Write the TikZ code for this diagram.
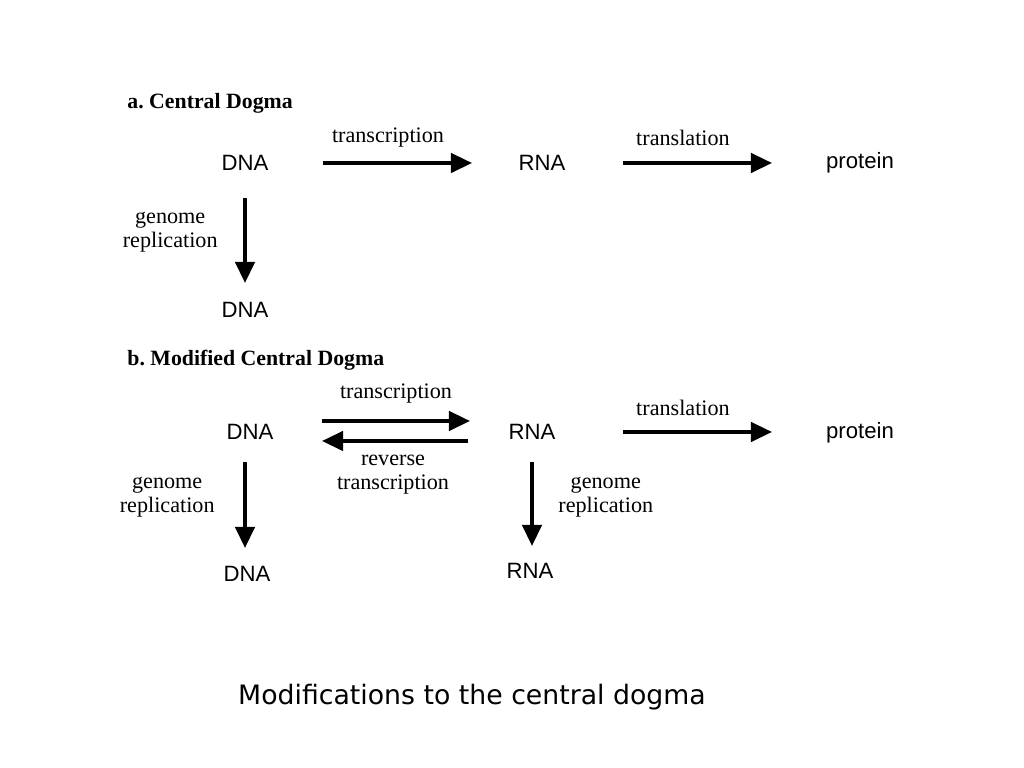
\documentclass[tikz,border=0pt]{standalone}
\usepackage{fontspec}
\setmainfont{Liberation Serif}
\newfontfamily\labfont{Liberation Sans}
\newfontfamily\capfont{DejaVu Sans}
\usetikzlibrary{arrows.meta,positioning}
\frenchspacing

\begin{document}
\begin{tikzpicture}[
    x=0.01cm, y=-0.01cm,
    mol/.style={font=\labfont\fontsize{6.3}{7}\selectfont},
    proc/.style={font=\fontsize{6.3}{6.8}\selectfont, align=center},
    head/.style={font=\bfseries\fontsize{6.2}{7}\selectfont, anchor=west},
    flow/.style={line width=1pt, -{Triangle[length=6pt,width=5.5pt]}}
]
    \useasboundingbox (0,0) rectangle (1024,768);

    % a. Central Dogma
    \node[head] (ha) at (115,103) {a. Central Dogma};
    \node[mol] (dnaA) at (245,163) {DNA};
    \node[mol] (rnaA) at (542,163) {RNA};
    \node[mol] (protA) at (860,163) {protein};
    \node[mol] (dnaB) at (245,310) {DNA};
    \coordinate (a1) at (323,163); \coordinate (a2) at (472,163);
    \coordinate (a3) at (623,163); \coordinate (a4) at (772,163);
    \coordinate (a5) at (245,198); \coordinate (a6) at (245,283);
    \draw[flow] (a1) -- (a2);
    \draw[flow] (a3) -- (a4);
    \draw[flow] (a5) -- (a6);
    \node[proc] (ltA) at (388,138) {transcription};
    \node[proc] (llA) at (683,138) {translation};
    \node[proc, anchor=east] (lgA) at (230,232) {genome\\replication};

    % b. Modified Central Dogma
    \node[head] (hb) at (115,360) {b. Modified Central Dogma};
    \node[mol] (dnaC) at (250,432) {DNA};
    \node[mol] (rnaC) at (532,432) {RNA};
    \node[mol] (protC) at (860,433) {protein};
    \node[mol] (dnaD) at (247,574) {DNA};
    \node[mol] (rnaD) at (530,571) {RNA};
    \coordinate (b1) at (322,421); \coordinate (b2) at (470,421);
    \coordinate (b3) at (468,441); \coordinate (b4) at (322,441);
    \coordinate (b5) at (623,432); \coordinate (b6) at (772,432);
    \coordinate (b7) at (245,462); \coordinate (b8) at (245,548);
    \coordinate (b9) at (532,462); \coordinate (b10) at (532,546);
    \draw[flow] (b1) -- (b2);
    \draw[flow] (b3) -- (b4);
    \draw[flow] (b5) -- (b6);
    \draw[flow] (b7) -- (b8);
    \draw[flow] (b9) -- (b10);
    \node[proc] (ltB) at (396,394) {transcription};
    \node[proc] (lrB) at (393,475) {reverse\\transcription};
    \node[proc] (llB) at (683,408) {translation};
    \node[proc, anchor=east] (lgB) at (227,497) {genome\\replication};
    \node[proc, anchor=west] (lgC) at (546,497) {genome\\replication};

    % caption
    \node[font=\capfont\fontsize{7.6}{9}\selectfont] (cap) at (472,697) {Modifications to the central dogma};
\end{tikzpicture}
\end{document}
